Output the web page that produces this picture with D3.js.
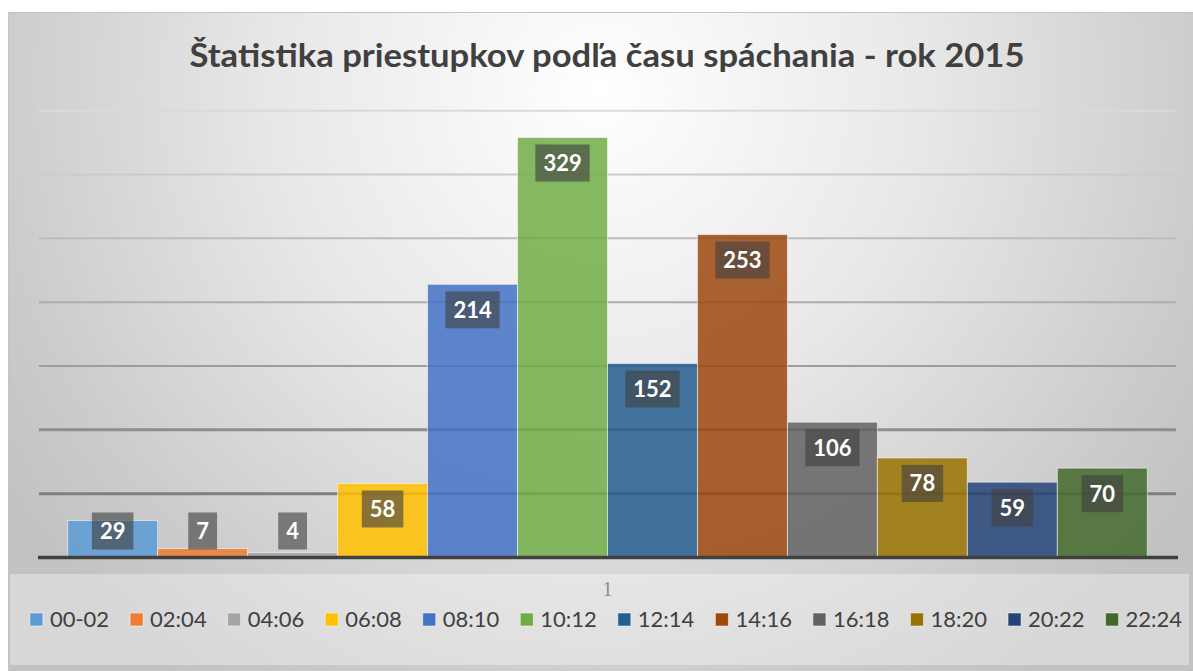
<!DOCTYPE html>
<html>
<head>
<meta charset="utf-8">
<script src="https://cdn.jsdelivr.net/npm/d3@7"></script>
<style>
  body { margin: 0; background: #fff; }
  svg { display: block; }
</style>
</head>
<body>
<div id="chart"></div>
<script>
// data
let categories = ["1"]
let seriesNames = ["00-02", "02:04", "04:06", "06:08", "08:10", "10:12", "12:14", "14:16", "16:18", "18:20", "20:22", "22:24"]
let seriesValues = [29, 7, 4, 58, 214, 329, 152, 253, 106, 78, 59, 70]
let chartTitle = "Štatistika priestupkov podľa času spáchania - rok 2015"

let W = 1193, H = 671
var margin = { top: 110.7, right: 16, bottom: 113.5, left: 38 }

let svg = d3.select("#chart")
    .append("svg")
    .attr("width", W)
    .attr("height", H)

let defs = svg.append("defs")
let bgGrad = defs.append("radialGradient")
    .attr("id", "bg")
    .attr("gradientUnits", "userSpaceOnUse")
    .attr("cx", 600).attr("cy", 90).attr("r", 720)
bgGrad.selectAll("stop")
    .data([[0, "#ffffff"], [0.45, "#e8e8e8"], [0.85, "#cbcbcb"], [1, "#c2c2c2"]])
    .enter().append("stop")
    .attr("offset", d => d[0])
    .attr("stop-color", d => d[1])

// chart background + border
svg.append("rect")
    .attr("x", 8.5).attr("y", 12.5)
    .attr("width", 1200).attr("height", 680)
    .attr("fill", "url(#bg)")
    .attr("stroke", "#c4c4c4")

// legend panel
svg.append("rect")
    .attr("x", 10).attr("y", 574)
    .attr("width", 1179).attr("height", 91)
    .attr("fill", "#ffffff")
    .attr("fill-opacity", 0.35)

var x = d3.scaleBand()
    .domain(categories)
    .range([margin.left, W - margin.right])
    .paddingInner(0)
    .paddingOuter(0.0275)

var xSeries = d3.scaleBand()
    .domain(seriesNames)
    .range([0, x.bandwidth()])
    .padding(0)

var y = d3.scaleLinear()
    .domain([0, 350])
    .range([H - margin.bottom, margin.top])

var color = d3.scaleOrdinal()
    .domain(seriesNames)
    .range(["#5b9bd5", "#ed7d31", "#a5a5a5", "#ffc000", "#4472c4", "#70ad47",
        "#255e91", "#9e480e", "#636363", "#997300", "#264478", "#43682b"])

// gridlines get darker towards the bottom
var gridColor = d3.scaleLinear().domain([50, 350]).range(["#7f7f7f", "#dadada"])
let gridVals = y.ticks(7).filter(d => d > 0)

svg.append("g")
    .selectAll("line")
    .data(gridVals)
    .enter().append("line")
    .attr("x1", margin.left + 1)
    .attr("x2", W - margin.right - 1)
    .attr("y1", d => y(d))
    .attr("y2", d => y(d))
    .attr("stroke", d => gridColor(d))
    .attr("stroke-width", d => d <= 100 ? 3 : 2)

let rows = seriesNames.map((s, i) => ({ name: s, value: seriesValues[i], cat: categories[0] }))

// bars
svg.append("g")
    .selectAll("rect")
    .data(rows)
    .enter().append("rect")
    .attr("x", d => x(d.cat) + xSeries(d.name))
    .attr("y", d => y(d.value))
    .attr("width", xSeries.bandwidth())
    .attr("height", d => y(0) - y(d.value))
    .attr("fill", d => color(d.name))
    .attr("fill-opacity", 0.85)
    .attr("stroke", "#ffffff")
    .attr("stroke-opacity", 0.55)
    .attr("stroke-width", 1)

// baseline
svg.append("line")
    .attr("x1", margin.left).attr("x2", W - margin.right + 1)
    .attr("y1", y(0)).attr("y2", y(0))
    .attr("stroke", "#404040")
    .attr("stroke-width", 3.5)

// data labels (inside end, kept above baseline)
let boxH = 37
let labels = svg.append("g")
    .selectAll("g")
    .data(rows)
    .enter().append("g")
    .attr("transform", d => {
        let cx = x(d.cat) + xSeries(d.name) + xSeries.bandwidth() / 2
        let top = Math.min(y(d.value) + 7, y(0) - 8 - boxH)
        return "translate(" + cx + "," + top + ")"
    })

labels.append("rect")
    .attr("y", 0)
    .attr("height", boxH)
    .attr("fill", "#404040")
    .attr("fill-opacity", 0.62)

let labelTexts = labels.append("text")
    .attr("y", boxH / 2)
    .attr("dy", "0.36em")
    .attr("text-anchor", "middle")
    .attr("fill", "#ffffff")
    .style("font-family", "Lato, 'Open Sans', sans-serif")
    .style("font-weight", "bold")
    .style("font-size", "22px")
    .text(d => d.value)

labelTexts.each(function (d) {
    let w = this.getComputedTextLength() + 16
    d3.select(this.parentNode).select("rect")
        .attr("x", -w / 2)
        .attr("width", w)
})

// title
svg.append("text")
    .attr("x", 607)
    .attr("y", 67)
    .attr("text-anchor", "middle")
    .attr("fill", "#404040")
    .attr("textLength", 835)
    .attr("lengthAdjust", "spacingAndGlyphs")
    .style("font-family", "Lato, 'Open Sans', sans-serif")
    .style("font-weight", "bold")
    .style("font-size", "32px")
    .text(chartTitle)

// category label
svg.append("text")
    .attr("x", x(categories[0]) + x.bandwidth() / 2)
    .attr("y", 596)
    .attr("text-anchor", "middle")
    .attr("fill", "#8c8c8c")
    .style("font-family", "'Liberation Serif', serif")
    .style("font-size", "20px")
    .text(categories[0])

// legend
let legend = svg.append("g")
let items = legend.selectAll("g")
    .data(seriesNames)
    .enter().append("g")

items.append("rect")
    .attr("x", 0).attr("y", 613)
    .attr("width", 13).attr("height", 13)
    .attr("fill", d => color(d))
    .attr("stroke", "#ffffff")
    .attr("stroke-opacity", 0.5)

items.append("text")
    .attr("x", 20)
    .attr("y", 627)
    .attr("fill", "#404040")
    .style("font-family", "Lato, 'Open Sans', sans-serif")
    .style("font-size", "22px")
    .text(d => d)

let gap = 21
let offsets = []
let acc = 0
items.each(function (d, i) {
    let tw = d3.select(this).select("text").node().getComputedTextLength()
    offsets.push(acc)
    acc += 20 + tw + (i < seriesNames.length - 1 ? gap : 0)
})
let startX = 606 - acc / 2
items.attr("transform", (d, i) => "translate(" + (startX + offsets[i]) + ",0)")
</script>
</body>
</html>
